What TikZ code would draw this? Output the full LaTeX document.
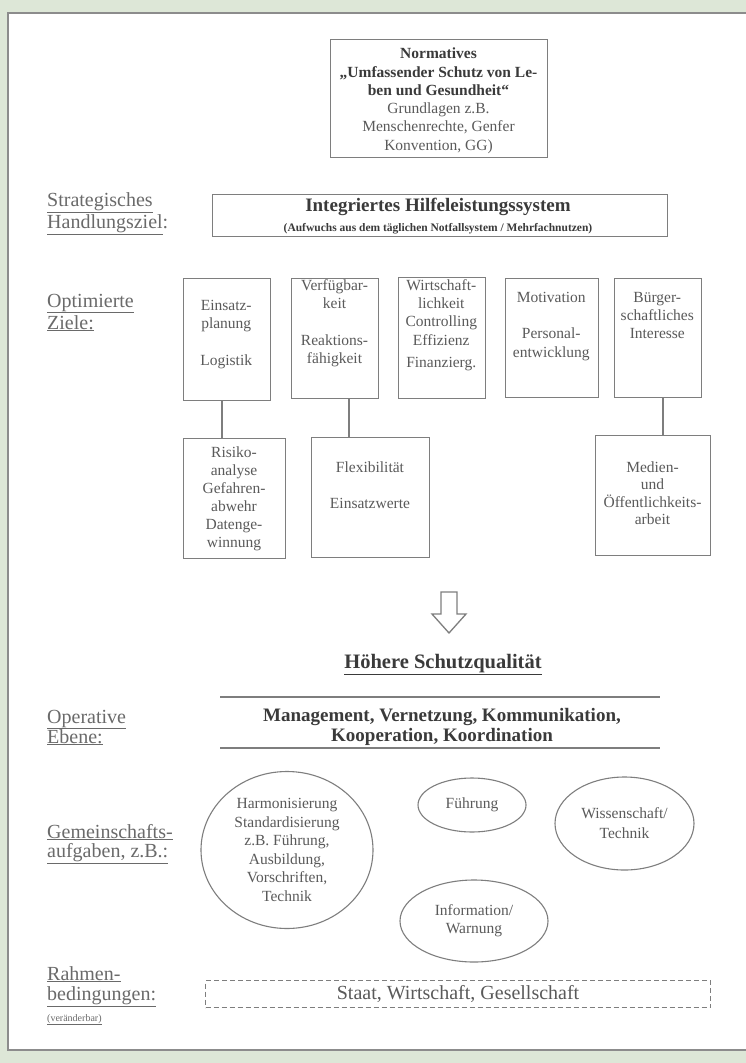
\documentclass[tikz,border=0pt]{standalone}
\usepackage{fontspec}
\setmainfont{Liberation Serif}
\usetikzlibrary{shapes.geometric}
\definecolor{bggreen}{HTML}{DDE7D7}
\definecolor{framecol}{HTML}{8C8C8C}
\definecolor{lncol}{HTML}{7E7E7E}
\definecolor{txcol}{HTML}{5A5A5A}
\definecolor{tbcol}{HTML}{3A3A3A}
\definecolor{labcol}{HTML}{6A6A6A}
\newcommand{\fsz}[2]{\fontsize{#1bp}{#2bp}\selectfont}
\begin{document}
\begin{tikzpicture}[x=1bp,y=-1bp,
  box/.style={draw=lncol,line width=1.1bp,inner sep=0,anchor=north west},
  btext/.style={text=txcol,inner sep=0,anchor=north,align=center,font=\fsz{15.5}{18.3}},
  labtext/.style={text=labcol,inner sep=0,anchor=base west,font=\fsz{20}{22}},
  conn/.style={draw=lncol,line width=1.1bp},
  ell/.style={draw=lncol,line width=1.1bp,ellipse,inner sep=0,text=txcol,align=center,font=\fsz{15.5}{18.5}}
]
\useasboundingbox (0,0) rectangle (746,1063);
\fill[bggreen] (0,0) rectangle (746,1063);
\draw[framecol,fill=white,line width=1.2bp] (8,13) rectangle (760,1050);

% Normatives
\node[box,minimum width=217bp,minimum height=118bp] (norm) at (330,39) {};
\node[btext,anchor=north] (normt) at (438.5,45.7) {\strut\textcolor{tbcol}{\bfseries Normatives}\\\textcolor{tbcol}{\bfseries „Umfassender Schutz von Le-}\\\textcolor{tbcol}{\bfseries ben und Gesundheit“}\\Grundlagen z.B.\\Menschenrechte, Genfer\\Konvention, GG)};

% Strategisches Handlungsziel
\node[labtext] (l1a) at (47,206) {\underline{Strategisches}};
\node[labtext] (l1b) at (47,228) {\underline{Handlungsziel}:};
\node[box,minimum width=455bp,minimum height=42bp] (intg) at (212,194) {};
\node[inner sep=0,anchor=base,text=tbcol,font=\fsz{19}{20}\bfseries] (intt) at (438,211) {Integriertes Hilfeleistungssystem};
\node[inner sep=0,anchor=base,text=tbcol,font=\fsz{11.5}{13}\bfseries] (ints) at (438,231) {(Aufwuchs aus dem täglichen Notfallsystem / Mehrfachnutzen)};

% Optimierte Ziele
\node[labtext] (l2a) at (47,307) {\underline{Optimierte}};
\node[labtext] (l2b) at (47,329) {\underline{Ziele:}};

\node[box,minimum width=87.5bp,minimum height=122bp] (b1) at (182.5,278) {};
\node[box,minimum width=87bp,minimum height=120bp] (b2) at (291,278) {};
\node[box,minimum width=87.5bp,minimum height=121bp] (b3) at (397.5,277) {};
\node[box,minimum width=92.5bp,minimum height=119bp] (b4) at (505,278) {};
\node[box,minimum width=87.4bp,minimum height=119bp] (b5) at (613.6,278) {};

\node[btext] (b1t) at (226.25,297.2) {\strut Einsatz-\\planung\\[18.3bp]Logistik};
\node[btext] (b2t) at (334.5,277.2) {\strut Verfügbar-\\keit\\[18.3bp]Reaktions-\\fähigkeit};
\node[btext] (b3t) at (441.25,277.2) {\strut Wirtschaft-\\lichkeit\\Controlling\\Effizienz\\[4bp]Finanzierg.};
\node[btext] (b4t) at (551.25,289.2) {\strut Motivation\\[18.3bp]Personal-\\entwicklung};
\node[btext] (b5t) at (657.3,289.2) {\strut Bürger-\\schaftliches\\Interesse};

\node[box,minimum width=102bp,minimum height=120bp] (r1) at (183,438) {};
\node[box,minimum width=118bp,minimum height=120bp] (r2) at (311,437) {};
\node[box,minimum width=115bp,minimum height=120bp] (r3) at (595,435) {};

\node[btext,font=\fsz{15.5}{18}] (r1t) at (234,444.4) {\strut Risiko-\\analyse\\Gefahren-\\abwehr\\Datenge-\\winnung};
\node[btext] (r2t) at (370,459.2) {\strut Flexibilität\\[18.3bp]Einsatzwerte};
\node[btext,font=\fsz{15.5}{17.5}] (r3t) at (652.5,459.75) {\strut Medien-\\und\\Öffentlichkeits-\\arbeit};

\coordinate (c1) at (222,0);
\coordinate (c2) at (349,0);
\coordinate (c3) at (663,0);
\draw[conn] (b1.south -| c1) -- (r1.north -| c1);
\draw[conn] (b2.south -| c2) -- (r2.north -| c2);
\draw[conn] (b5.south -| c3) -- (r3.north -| c3);

% hollow arrow
\draw[lncol,line width=1.3bp,fill=white,line join=miter] (441,592) -- (457,592) -- (457,614) -- (466,614) -- (449,633) -- (432,614) -- (441,614) -- cycle;

\node[inner sep=0,anchor=base,text=tbcol,font=\fsz{20.5}{22}\bfseries] (hs) at (443,668) {\underline{Höhere Schutzqualität}};

% Operative Ebene
\node[labtext] (l3a) at (47,723) {\underline{Operative}};
\node[labtext] (l3b) at (47,743) {\underline{Ebene:}};
\coordinate (m1l) at (220,697);
\coordinate (m1r) at (660,697);
\coordinate (m2l) at (220,748);
\coordinate (m2r) at (660,748);
\draw[conn] (m1l) -- (m1r);
\draw[conn] (m2l) -- (m2r);
\node[inner sep=0,anchor=north,align=center,text=tbcol,font=\fsz{19}{20}\bfseries] (mgt) at (442,707) {\strut Management, Vernetzung, Kommunikation,\\Kooperation, Koordination};

% Gemeinschaftsaufgaben
\node[labtext] (l4a) at (47,838) {\underline{Gemeinschafts-}};
\node[labtext] (l4b) at (47,857) {\underline{aufgaben, z.B.:}};
\node[ell,minimum width=172bp,minimum height=157bp] (e1) at (287,850) {Harmonisierung\\Standardisierung\\z.B. Führung,\\Ausbildung,\\Vorschriften,\\Technik};
\node[ell,minimum width=108bp,minimum height=54bp] (e2) at (472,805) {Führung};
\node[ell,minimum width=139bp,minimum height=93bp,font=\fsz{15.5}{20}] (e3) at (624.5,823.5) {Wissenschaft/\\Technik};
\node[ell,minimum width=148bp,minimum height=82bp,font=\fsz{15.5}{18}] (e4) at (474,921) {Information/\\Warnung};

% Rahmenbedingungen
\node[labtext] (l5a) at (47,980) {\underline{Rahmen-}};
\node[labtext] (l5b) at (47,1000) {\underline{bedingungen:}};
\node[labtext,font=\fsz{10}{12}] (l5c) at (47,1021) {\underline{(veränderbar)}};
\node[box,dashed,dash pattern=on 5bp off 3bp,minimum width=505bp,minimum height=27bp,text=txcol,font=\fsz{20}{22}] (rb) at (205,980) {Staat, Wirtschaft, Gesellschaft};
\end{tikzpicture}
\end{document}
